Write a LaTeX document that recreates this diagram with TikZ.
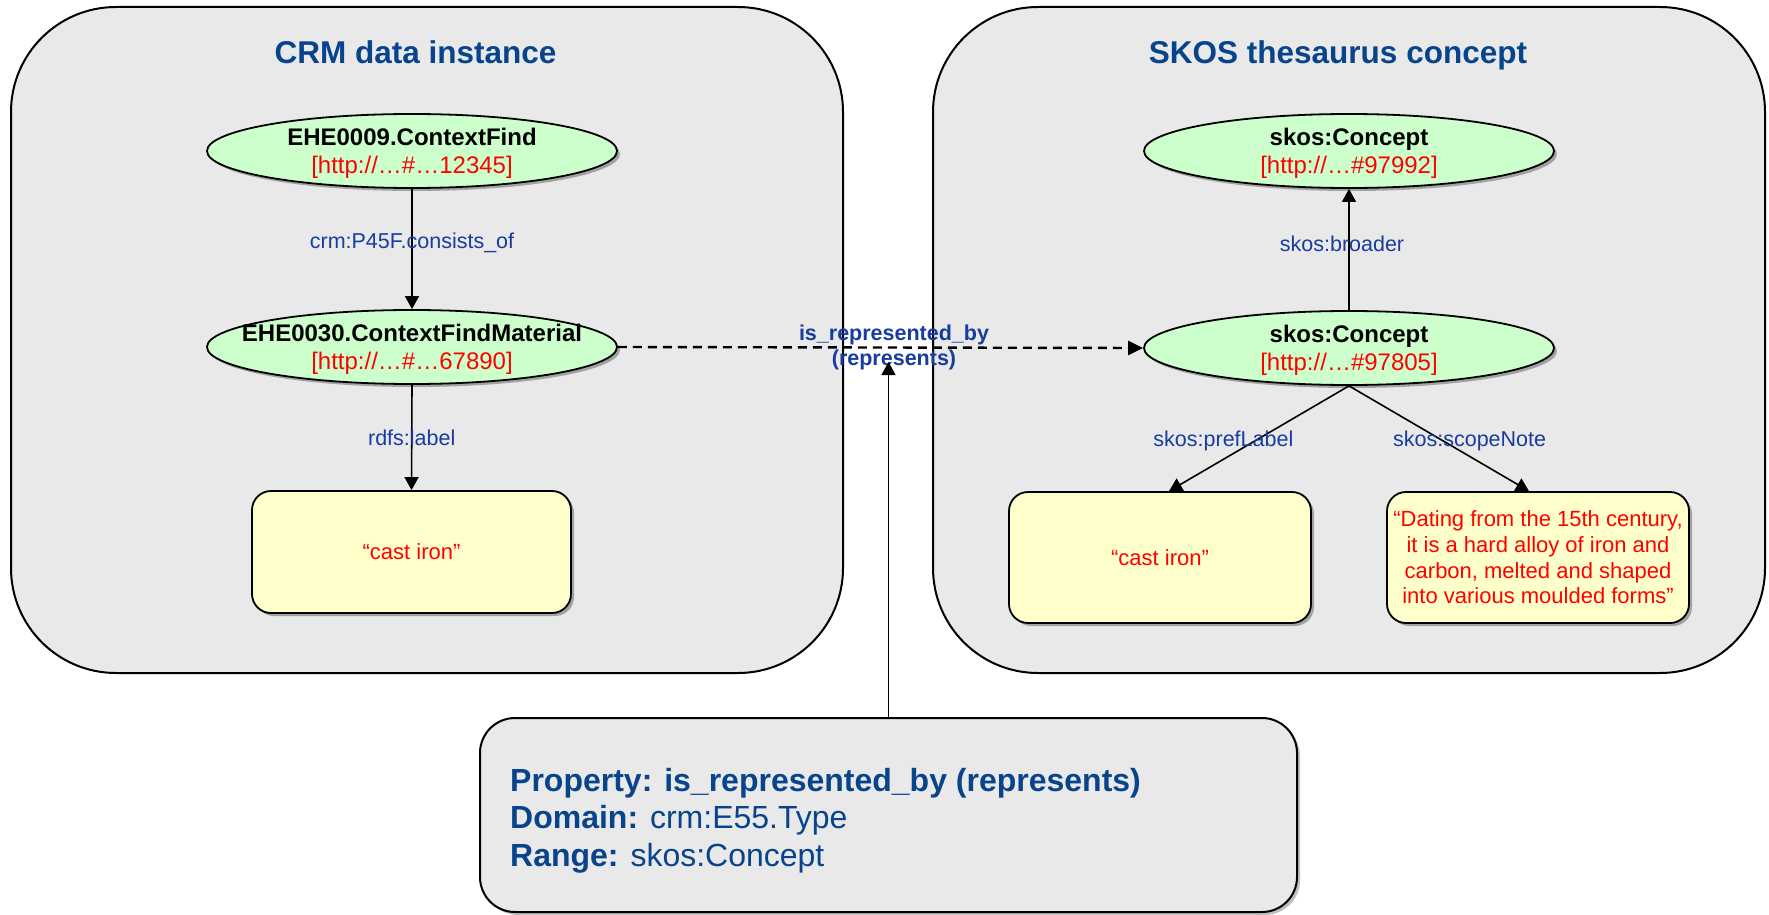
\documentclass[tikz,border=0pt]{standalone}
\usepackage{fontspec}
\setmainfont{Liberation Sans}
\usetikzlibrary{shapes.geometric,arrows.meta,shadows}
\definecolor{panelgray}{RGB}{233,233,233}
\definecolor{nodegreen}{RGB}{204,255,204}
\definecolor{noteyellow}{RGB}{255,255,204}
\definecolor{titleblue}{RGB}{8,68,140}
\definecolor{edgeblue}{RGB}{24,60,160}
\definecolor{urired}{RGB}{255,0,0}
\begin{document}
\begin{tikzpicture}[x=1pt,y=-1pt,
  panel/.style={draw=black, line width=2pt, fill=panelgray, rounded corners=105pt, inner sep=0pt},
  paneltitle/.style={anchor=base, inner sep=0pt, text=titleblue, font=\fontsize{31.5}{36}\selectfont\bfseries},
  res/.style={ellipse, draw=black, line width=1.8pt, fill=nodegreen, minimum width=410pt, minimum height=74pt,
    inner sep=0pt,
    drop shadow={shadow xshift=3pt, shadow yshift=-3pt, fill=black, opacity=0.3}},
  restext/.style={inner sep=0pt, align=center, yshift=-2.5pt, font=\fontsize{24}{28}\selectfont},
  note/.style={draw=black, line width=1.8pt, fill=noteyellow, rounded corners=19pt, inner sep=0pt,
    align=center, text=urired, font=\fontsize{22}{25.7}\selectfont,
    drop shadow={shadow xshift=3pt, shadow yshift=-3pt, fill=black, opacity=0.3}},
  propbox/.style={draw=black, line width=2pt, fill=panelgray, rounded corners=35pt, inner sep=0pt,
    drop shadow={shadow xshift=3pt, shadow yshift=-3pt, fill=black, opacity=0.25}},
  proptext/.style={anchor=base west, inner sep=0pt, text=titleblue, font=\fontsize{32}{37}\selectfont},
  lab/.style={inner sep=0pt, text=edgeblue, font=\fontsize{21.5}{25}\selectfont},
  replab/.style={inner sep=0pt, align=center, text=edgeblue, font=\fontsize{21.5}{25}\selectfont\bfseries},
  arr/.style={-{Triangle[length=13pt,width=14pt]}, line width=1.6pt},
  dasharr/.style={-{Triangle[length=15pt,width=14pt]}, line width=2.4pt, dash pattern=on 9pt off 6pt}
]
\useasboundingbox (0,0) rectangle (1769,915);
\fill[white] (0,0) rectangle (1769,915);

% panels
\node[panel, minimum width=832pt, minimum height=666pt] (crm) at (427,340) {};
\node[panel, minimum width=832pt, minimum height=666pt] (skos) at (1349,340) {};
\node[paneltitle] (crmT) at (415.5,64) {CRM data instance};
\node[paneltitle] (skosT) at (1338,64) {SKOS thesaurus concept};

% resources
\node[res] (e1) at (412,151) {};
\node[res] (e2) at (412,347) {};
\node[res] (s1) at (1349,151) {};
\node[res] (s2) at (1349,348) {};
\node[restext] (e1t) at (e1) {\textbf{EHE0009.ContextFind}\\\textcolor{urired}{[http://…\#…12345]}};
\node[restext] (e2t) at (e2) {\textbf{EHE0030.ContextFindMaterial}\\\textcolor{urired}{[http://…\#…67890]}};
\node[restext] (s1t) at (s1) {\textbf{skos:Concept}\\\textcolor{urired}{[http://…\#97992]}};
\node[restext] (s2t) at (s2) {\textbf{skos:Concept}\\\textcolor{urired}{[http://…\#97805]}};

% literals
\node[note, minimum width=319pt, minimum height=122pt] (b1) at (411.5,552) {“cast iron”};
\node[note, minimum width=302pt, minimum height=131pt] (b2) at (1160,557.5) {“cast iron”};
\node[note, minimum width=302pt, minimum height=131pt] (b3) at (1538,557.5)
  {“Dating from the 15th century,\\it is a hard alloy of iron and\\carbon, melted and shaped\\into various moulded forms”};

% property box
\node[propbox, minimum width=817pt, minimum height=194pt] (prop) at (888.5,815) {};
\node[proptext] (pt1) at (510,791) {\textbf{Property: is\_represented\_by (represents)}};
\node[proptext] (pt2) at (510,828) {\textbf{Domain:} crm:E55.Type};
\node[proptext] (pt3) at (510,866) {\textbf{Range:} skos:Concept};

% edges
\draw[arr] (e1) -- node[lab, pos=0.45] (l1) {crm:P45F.consists\_of} (e2);
\draw[arr] (e2.south) -- node[lab, pos=0.5] (l2) {rdfs:label} (b1.north);
\draw[arr] (s2) -- node[lab, pos=0.55, xshift=-7pt] (l3) {skos:broader} (s1);
\draw[arr] (s2.south) -- node[lab, pos=0.52, xshift=-32pt] (l4) {skos:prefLabel} ([xshift=9pt]b2.north);
\draw[arr] (s2.south) -- node[lab, pos=0.52, xshift=27pt] (l5) {skos:scopeNote} ([xshift=-9pt]b3.north);
\draw[dasharr] (e2.east) -- (s2.west);
\node[replab] (rep) at (894,347.5) {is\_represented\_by\\(represents)};
\coordinate (reptip) at (888.5,362);
\draw[arr] (prop.north) -- (reptip);
\end{tikzpicture}
\end{document}
